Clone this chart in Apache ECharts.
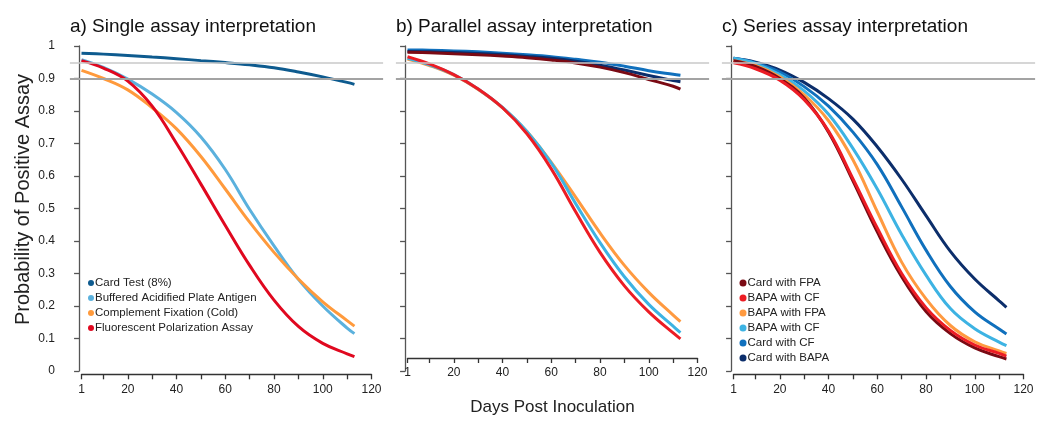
<!DOCTYPE html>
<html>
<head>
<meta charset="utf-8">
<script src="https://cdn.jsdelivr.net/npm/echarts@6/dist/echarts.min.js"></script>
<style>html,body{margin:0;padding:0;background:#fff}#c{width:1046px;height:421px}</style>
</head>
<body>
<div id="c"></div>
<script>
// ---- data ----
const days = [1, 10, 20, 30, 40, 50, 60, 70, 80, 90, 100, 110, 113];
const xTicks = [1, 10, 20, 30, 40, 50, 60, 70, 80, 90, 100, 110, 120];
const xLabels = [1, 20, 40, 60, 80, 100, 120];
const refLines = [0.95, 0.9];

// a) single assay
const aCard = [0.978, 0.975, 0.971, 0.966, 0.961, 0.955, 0.949, 0.942, 0.933, 0.920, 0.905, 0.888, 0.882];
const aBAPA = [0.958, 0.934, 0.898, 0.852, 0.795, 0.720, 0.620, 0.497, 0.385, 0.282, 0.200, 0.132, 0.115];
const aCF   = [0.925, 0.900, 0.865, 0.810, 0.745, 0.660, 0.560, 0.458, 0.365, 0.283, 0.213, 0.155, 0.138];
const aFPA  = [0.955, 0.932, 0.892, 0.815, 0.700, 0.575, 0.448, 0.325, 0.218, 0.137, 0.085, 0.053, 0.044];

// b) parallel
const bCardFPA  = [0.981, 0.979, 0.976, 0.973, 0.969, 0.964, 0.957, 0.948, 0.935, 0.918, 0.897, 0.876, 0.867];
const bBAPACF   = [0.967, 0.945, 0.912, 0.868, 0.810, 0.730, 0.622, 0.490, 0.365, 0.262, 0.182, 0.117, 0.099];
const bBAPAFPA  = [0.960, 0.940, 0.910, 0.866, 0.810, 0.737, 0.642, 0.535, 0.425, 0.325, 0.242, 0.172, 0.152];
const bBAPACF2  = [0.962, 0.942, 0.912, 0.868, 0.811, 0.737, 0.640, 0.515, 0.395, 0.290, 0.205, 0.138, 0.118];
const bCardCF   = [0.988, 0.987, 0.985, 0.982, 0.978, 0.973, 0.967, 0.959, 0.950, 0.938, 0.924, 0.913, 0.910];
const bCardBAPA = [0.983, 0.982, 0.980, 0.977, 0.973, 0.968, 0.962, 0.953, 0.941, 0.926, 0.909, 0.894, 0.890];

// c) series
const cCardFPA  = [0.955, 0.937, 0.900, 0.840, 0.735, 0.585, 0.428, 0.290, 0.183, 0.115, 0.071, 0.044, 0.037];
const cBAPACF   = [0.948, 0.930, 0.895, 0.835, 0.738, 0.592, 0.440, 0.300, 0.195, 0.125, 0.080, 0.054, 0.046];
const cBAPAFPA  = [0.955, 0.940, 0.905, 0.850, 0.770, 0.650, 0.490, 0.335, 0.222, 0.140, 0.090, 0.062, 0.054];
const cBAPACF2  = [0.962, 0.946, 0.912, 0.862, 0.790, 0.685, 0.560, 0.420, 0.295, 0.192, 0.130, 0.089, 0.078];
const cCardCF   = [0.962, 0.948, 0.920, 0.875, 0.815, 0.735, 0.635, 0.505, 0.372, 0.260, 0.182, 0.129, 0.114];
const cCardBAPA = [0.962, 0.950, 0.926, 0.888, 0.838, 0.775, 0.690, 0.590, 0.478, 0.368, 0.283, 0.216, 0.196];

const titles = ['a) Single assay interpretation', 'b) Parallel assay interpretation', 'c) Series assay interpretation'];
const aNames = ['Card Test (8%)', 'Buffered Acidified Plate Antigen', 'Complement Fixation (Cold)', 'Fluorescent Polarization Assay'];
const cNames = ['Card with FPA', 'BAPA with CF', 'BAPA with FPA', 'BAPA with CF ', 'Card with CF', 'Card with BAPA'];

// ---- styling ----
const FONT = '"Liberation Sans", Arial, Helvetica, sans-serif';
const C = {
  card: '#0e5b8f', bapa: '#5bb1dd', cf: '#ff9a3c', fpa: '#e0081f',
  darkred: '#7a0a14', red: '#ec1c24', orange: '#ff9a40', lblue: '#3db3e3', blue: '#1070bd', navy: '#0c2e6b'
};
const panelX1 = [81.5, 407.5, 733.5];
const W = 290;                 // pixel width of 1..120
const PADPX = 0.04 * W;        // R style 4% padding
const PADU = 0.04 * (120 - 1);
const TOP = 46, H = 325, XAXIS_Y = 374.3;

const grid = [], xAxis = [], yAxis = [], series = [], title = [];
panelX1.forEach((x1, i) => {
  grid.push({ left: x1 - PADPX, width: W + 2 * PADPX, top: TOP, height: H });
  grid.push({ left: x1, width: W, top: TOP, height: XAXIS_Y - TOP });
  xAxis.push({ gridIndex: 2 * i, type: 'value', min: 1 - PADU, max: 120 + PADU, show: false });
  xAxis.push({
    gridIndex: 2 * i + 1, type: 'value', min: 1, max: 120,
    axisLine: { show: true, lineStyle: { color: '#333', width: 1.3 } },
    axisTick: { show: true, length: 5, lineStyle: { color: '#333', width: 1.3 }, customValues: xTicks },
    axisLabel: { show: true, customValues: xLabels, margin: 9, fontSize: 12, color: '#222', fontFamily: FONT },
    splitLine: { show: false },
    name: i === 1 ? 'Days Post Inoculation' : '', nameLocation: 'middle', nameGap: 41,
    nameTextStyle: { fontSize: 17, color: '#222', fontFamily: FONT }
  });
  yAxis.push({
    gridIndex: 2 * i, type: 'value', min: 0, max: 1, interval: 0.1,
    axisLine: { show: true, lineStyle: { color: '#555', width: 1.3 } },
    axisTick: { show: true, length: 5, lineStyle: { color: '#555', width: 1.3 } },
    axisLabel: { show: i === 0, margin: 15, fontSize: 12, color: '#222', fontFamily: FONT },
    splitLine: { show: false },
    name: i === 0 ? 'Probability of Positive Assay' : '', nameLocation: 'middle', nameGap: 36,
    nameTextStyle: { fontSize: 20, color: '#222', fontFamily: FONT, padding: [0, 0, 0, 18] }
  });
  yAxis.push({ gridIndex: 2 * i + 1, type: 'value', min: 0, max: 1, show: false });
  title.push({ text: titles[i], left: x1 - PADPX, top: 17, padding: 0,
    textStyle: { fontSize: 19, fontWeight: 'normal', color: '#111', fontFamily: FONT } });
});

function line(panel, name, vals, color, withRef) {
  const s = {
    type: 'line', name, xAxisIndex: 2 * panel, yAxisIndex: 2 * panel,
    data: days.map((d, j) => [d, vals[j]]),
    showSymbol: false, smooth: 0.4, color,
    lineStyle: { color, width: 3 }, itemStyle: { color },
    silent: true
  };
  if (withRef) {
    s.markLine = {
      silent: true, symbol: ['none', 'none'], label: { show: false },
      data: [
        { yAxis: refLines[0], lineStyle: { color: '#c8c8c8', width: 1.5, type: 'solid' } },
        { yAxis: refLines[1], lineStyle: { color: '#a3a3a3', width: 1.8, type: 'solid' } }
      ]
    };
  }
  return s;
}

series.push(line(0, aNames[0], aCard, C.card, true));
series.push(line(0, aNames[1], aBAPA, C.bapa));
series.push(line(0, aNames[2], aCF, C.cf));
series.push(line(0, aNames[3], aFPA, C.fpa));

series.push(line(1, 'b ' + cNames[4], bCardCF, C.blue, true));
series.push(line(1, 'b ' + cNames[5], bCardBAPA, C.navy));
series.push(line(1, 'b ' + cNames[0], bCardFPA, C.darkred));
series.push(line(1, 'b ' + cNames[2], bBAPAFPA, C.orange));
series.push(line(1, 'b ' + cNames[3], bBAPACF2, C.lblue));
series.push(line(1, 'b ' + cNames[1], bBAPACF, C.red));

series.push(line(2, cNames[5], cCardBAPA, C.navy, true));
series.push(line(2, cNames[4], cCardCF, C.blue));
series.push(line(2, cNames[3], cBAPACF2, C.lblue));
series.push(line(2, cNames[2], cBAPAFPA, C.orange));
series.push(line(2, cNames[0], cCardFPA, C.darkred));
series.push(line(2, cNames[1], cBAPACF, C.red));

const legendBase = {
  orient: 'vertical', icon: 'circle', padding: 0, itemGap: 3,
  selectedMode: false, formatter: n => n.trim(),
  textStyle: { fontSize: 11.5, color: '#222', fontFamily: FONT, padding: [0, 0, 0, -4] }
};
const legend = [
  Object.assign({}, legendBase, { data: aNames, left: 88, top: 277, itemWidth: 6, itemHeight: 6 }),
  Object.assign({}, legendBase, { data: cNames, left: 739.5, top: 277, itemWidth: 7, itemHeight: 7 })
];

const chart = echarts.init(document.getElementById('c'), null, { renderer: 'canvas' });
chart.setOption({ animation: false, backgroundColor: '#fff', title, grid, xAxis, yAxis, legend, series });
</script>
</body>
</html>
